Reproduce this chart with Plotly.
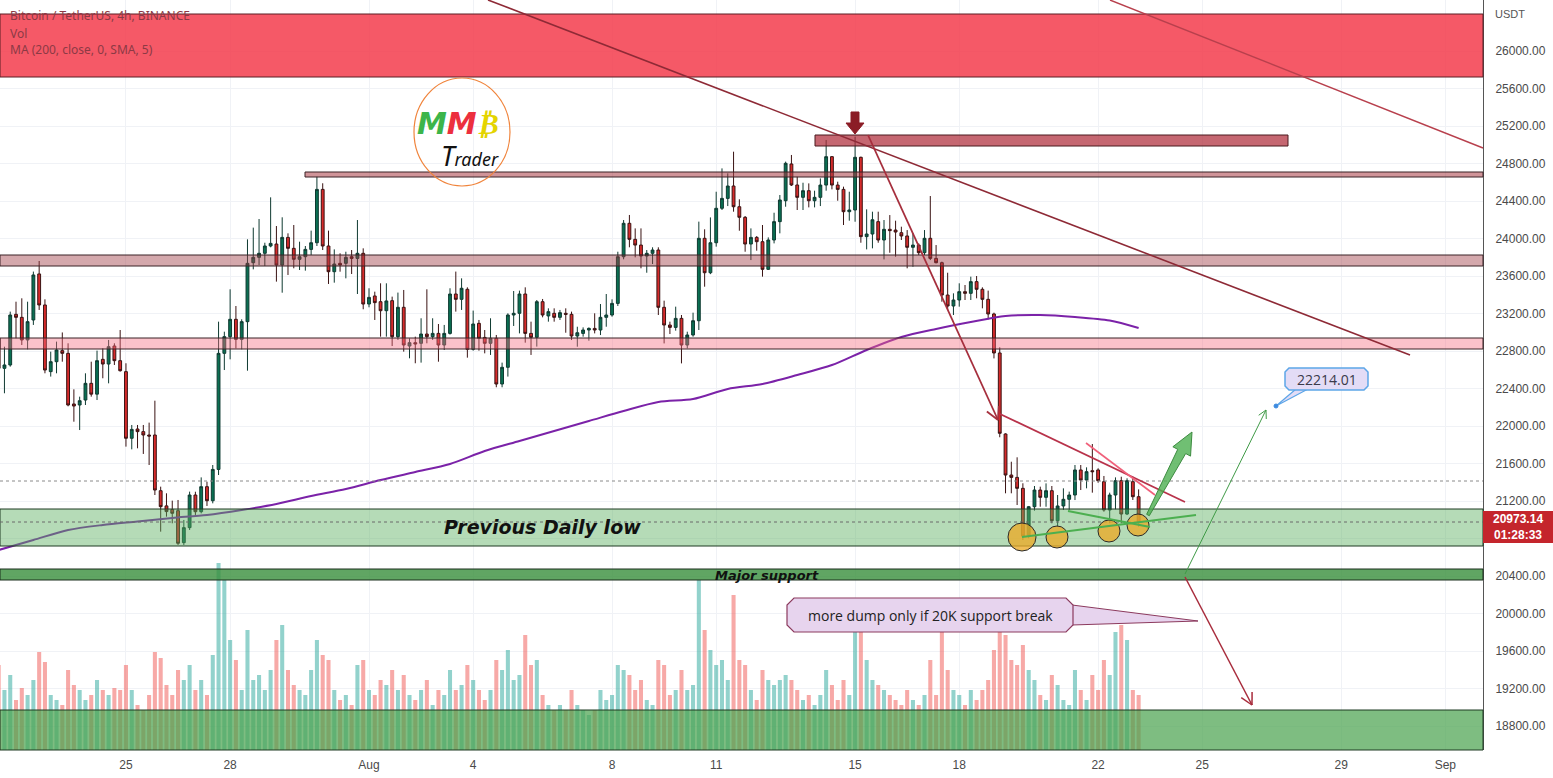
import plotly.graph_objects as go
import pandas as pd
import math

# ---------------- data ----------------
dates = pd.date_range("2022-07-21 08:00", periods=198, freq="4h")

opens = [22935, 22615, 22651, 23191, 23159, 22918, 23131, 23622, 23291, 22580,
         22686, 22804, 22775, 22235, 22224, 22277, 22455, 22340, 22711, 22661,
         22853, 22697, 22580, 21869, 21968, 21940, 21904, 21904, 21310, 21148,
         21108, 21097, 20756, 20916, 21264, 21086, 21353, 21203, 21537, 22775,
         22953, 23138, 22924, 23113, 23742, 23799, 23842, 23920, 23941, 23717,
         24012, 23895, 23778, 23806, 23884, 23955, 24524, 23920, 23646, 23735,
         23735, 23806, 23788, 23842, 23301, 23387, 23326, 23230, 23337, 22953,
         23266, 22853, 22889, 22882, 22981, 22953, 22988, 22864, 22988, 23408,
         23351, 23458, 22818, 23095, 22945, 22882, 22935, 22448, 22626, 23184,
         23202, 23408, 22988, 22946, 23326, 23174, 23202, 23159, 23202, 23191,
         22960, 22988, 23024, 23041, 23024, 23159, 23184, 23308, 23806, 24162,
         23991, 23930, 23813, 23842, 23877, 23266, 23077, 23052, 23148, 22864,
         22971, 23123, 24002, 23635, 23955, 24322, 24428, 24560, 24339, 24226,
         23941, 24012, 23966, 23671, 23984, 24180, 24403, 24795, 24571, 24439,
         24510, 24403, 24439, 24570, 24873, 24570, 24524, 24286, 24304, 24866,
         24020, 24048, 24180, 23984, 24098, 24090, 24062, 24027, 23906, 23930,
         23849, 24002, 23788, 23742, 23397, 23280, 23344, 23433, 23415, 23540,
         23458, 23351, 23195, 22779, 21915, 21477, 21452, 21335, 20837, 21139,
         21317, 21239, 21310, 20990, 21147, 21218, 21264, 21531, 21424, 21523,
         21531, 21406, 21104, 21264, 21417, 21061, 21406, 21246]
highs = [22980, 22846, 23220, 23326, 23362, 23326, 23647, 23760, 23351, 22793,
         22900, 22998, 22882, 22391, 22313, 22562, 22686, 22804, 22829, 22918,
         22882, 23024, 22669, 22011, 22011, 22011, 22036, 22270, 21353, 21282,
         21204, 21211, 20998, 21300, 21299, 21452, 21406, 21584, 23113, 23006,
         23458, 23280, 23138, 23991, 24116, 24208, 23955, 24439, 24133, 24226,
         24055, 24144, 23966, 23920, 24084, 24659, 24589, 24084, 23884, 23842,
         23859, 23877, 24197, 23895, 23469, 23433, 23522, 23522, 23380, 23423,
         23451, 22935, 22953, 23149, 23458, 23149, 23088, 23078, 23469, 23647,
         23575, 23479, 23231, 23131, 23024, 23149, 22971, 22676, 23202, 23440,
         23444, 23479, 23113, 23344, 23355, 23255, 23255, 23238, 23255, 23220,
         23059, 23052, 23052, 23202, 23301, 23408, 23351, 23859, 24197, 24251,
         24108, 24108, 23877, 23906, 23906, 23337, 23113, 23273, 23184, 23006,
         23209, 24180, 24098, 24225, 24499, 24748, 24695, 24926, 24418, 24240,
         24108, 24026, 24144, 24012, 24275, 24464, 24820, 24891, 24659, 24595,
         24588, 24510, 24641, 25051, 24880, 24606, 24553, 24499, 25086, 24873,
         24311, 24286, 24286, 24197, 24250, 24190, 24126, 24090, 24055, 23948,
         24090, 24453, 23930, 23753, 23635, 23415, 23522, 23504, 23593, 23600,
         23479, 23444, 23209, 22839, 21922, 21619, 21666, 21389, 21147, 21360,
         21353, 21388, 21360, 21264, 21335, 21300, 21584, 21584, 21559, 21808,
         21549, 21467, 21289, 21452, 21459, 21442, 21459, 21324]
lows = [22590, 22349, 22633, 22935, 22864, 22818, 23078, 23238, 22562, 22527,
        22562, 22686, 22210, 22046, 21957, 22224, 22313, 22277, 22509, 22455,
        22651, 22580, 21780, 21751, 21762, 21702, 21584, 21264, 20873, 21033,
        20962, 20731, 20731, 20891, 21051, 21068, 21147, 21175, 21477, 22597,
        22711, 22828, 22818, 22590, 23671, 23717, 23707, 23906, 23540, 23422,
        23611, 23682, 23664, 23657, 23824, 23920, 23877, 23515, 23529, 23646,
        23575, 23621, 23408, 23245, 23266, 23131, 22953, 22953, 22853, 22918,
        22793, 22722, 22669, 22676, 22882, 22918, 22686, 22811, 22975, 23220,
        23238, 22729, 22804, 22804, 22775, 22758, 22413, 22413, 22527, 23067,
        22988, 22889, 22758, 22847, 23159, 23113, 23113, 23131, 22995, 22917,
        22846, 22953, 22910, 22988, 22970, 23059, 23166, 23280, 23778, 23906,
        23799, 23682, 23635, 23728, 23184, 22881, 22981, 23017, 22668, 22828,
        22953, 23024, 23486, 23620, 23913, 24304, 24346, 24286, 24083, 23859,
        23770, 23870, 23593, 23664, 23948, 24055, 24339, 24560, 24304, 24304,
        24332, 24332, 24346, 24510, 24524, 24403, 24144, 24190, 24179, 23955,
        23884, 23895, 23955, 23777, 23848, 23806, 23984, 23682, 23699, 23824,
        23824, 23770, 23735, 23326, 23237, 23184, 23273, 23344, 23344, 23362,
        23255, 23137, 22721, 21880, 21282, 21282, 21157, 20784, 20802, 21097,
        21139, 21139, 20962, 20926, 21104, 21104, 21210, 21317, 21335, 21289,
        21395, 21086, 20962, 21111, 20962, 21050, 21211, 20926]
closes = [22615, 22651, 23184, 23159, 22918, 23113, 23611, 23291, 22597, 22686,
          22811, 22775, 22224, 22213, 22270, 22455, 22340, 22697, 22661, 22846,
          22697, 22590, 21869, 21964, 21940, 21904, 21893, 21317, 21140, 21087,
          21069, 20749, 20916, 21264, 21086, 21353, 21203, 21537, 22775, 22953,
          23138, 22924, 23113, 23735, 23799, 23842, 23920, 23948, 23717, 24012,
          23895, 23778, 23806, 23884, 23955, 24524, 23920, 23646, 23728, 23717,
          23799, 23788, 23842, 23301, 23372, 23316, 23230, 23334, 22953, 23266,
          22864, 22889, 22875, 22981, 22953, 22988, 22864, 22988, 23408, 23351,
          23469, 22818, 23088, 22935, 22882, 22935, 22448, 22626, 23184, 23202,
          23408, 22988, 22946, 23326, 23184, 23220, 23159, 23209, 23191, 22960,
          22995, 23024, 23041, 23024, 23159, 23184, 23308, 23806, 24162, 23991,
          23930, 23813, 23842, 23877, 23266, 23077, 23052, 23148, 22864, 22971,
          23123, 24002, 23635, 23955, 24322, 24428, 24560, 24339, 24226, 23941,
          24012, 23966, 23671, 23984, 24180, 24411, 24802, 24571, 24439, 24510,
          24403, 24439, 24570, 24873, 24570, 24524, 24286, 24304, 24866, 24020,
          24048, 24200, 23984, 24098, 24084, 24069, 24027, 23906, 23930, 23849,
          24002, 23788, 23742, 23397, 23280, 23344, 23433, 23415, 23540, 23458,
          23351, 23195, 22779, 21922, 21477, 21452, 21335, 20826, 21139, 21317,
          21239, 21310, 20990, 21147, 21218, 21264, 21531, 21424, 21513, 21513,
          21417, 21104, 21264, 21417, 21061, 21417, 21246, 20973.14]
# volume (thousand BTC)
volumes = [17.0, 12.0, 15.0, 10.0, 12.4, 11.0, 14.0, 19.6, 17.6, 11.0,
           10.0, 9.0, 16.0, 13.0, 12.0, 10.0, 11.0, 14.0, 12.0, 11.0,
           12.4, 12.0, 17.0, 12.0, 9.0, 8.0, 11.0, 19.6, 18.4, 13.0,
           11.0, 16.0, 14.0, 17.0, 12.0, 14.0, 11.0, 19.0, 37.4, 34.0,
           22.0, 18.0, 12.0, 24.0, 14.0, 15.0, 12.0, 16.0, 22.0, 25.0,
           16.0, 13.0, 12.0, 11.0, 16.0, 22.0, 19.0, 18.0, 12.0, 10.0,
           11.0, 9.0, 17.0, 18.0, 12.0, 11.0, 14.0, 13.0, 16.0, 12.0,
           15.0, 11.0, 10.0, 12.0, 14.0, 9.0, 12.0, 11.0, 16.0, 12.0,
           13.0, 17.0, 14.0, 12.0, 10.0, 12.0, 18.0, 16.0, 20.0, 14.0,
           15.0, 23.0, 17.0, 18.0, 11.0, 9.0, 8.0, 9.0, 8.0, 12.0,
           9.0, 8.0, 7.0, 8.0, 12.0, 10.0, 11.0, 17.0, 16.0, 15.0,
           12.0, 14.0, 10.0, 9.0, 18.0, 17.0, 11.0, 12.0, 16.0, 12.0,
           13.0, 34.0, 24.0, 20.0, 17.0, 18.0, 14.0, 31.0, 18.0, 17.0,
           12.0, 10.0, 16.0, 14.0, 13.0, 14.0, 15.0, 14.0, 12.0, 10.0,
           11.0, 9.0, 11.0, 16.0, 13.0, 10.0, 14.0, 11.0, 27.6, 24.0,
           18.0, 14.0, 13.0, 12.0, 11.0, 10.0, 9.0, 12.0, 10.0, 9.0,
           11.0, 18.0, 11.0, 24.0, 16.0, 12.0, 11.0, 9.0, 12.0, 10.0,
           12.0, 14.0, 20.0, 26.0, 23.0, 18.0, 17.0, 21.0, 16.0, 14.0,
           11.0, 10.0, 15.0, 13.0, 10.0, 9.0, 16.0, 12.0, 10.0, 15.0,
           12.0, 18.0, 15.0, 23.6, 25.0, 22.0, 12.0, 11.0]

ma_idx = [0, 6, 12, 18, 24, 30, 36, 42, 48, 54, 60, 66, 72, 78, 84, 90, 96, 102, 108,
          114, 120, 126, 132, 138, 144, 150, 156, 162, 168, 174, 180, 186, 192, 197]
ma_vals = [20677, 20784, 20891, 20944, 20981, 21019, 21051, 21104, 21168, 21253,
           21328, 21424, 21509, 21595, 21733, 21840, 21947, 22053, 22160, 22256,
           22288, 22395, 22448, 22544, 22650, 22811, 22949, 23035, 23109, 23173,
           23184, 23163, 23125, 23045]

tick_dates = ["2022-07-25", "2022-07-28", "2022-08-01", "2022-08-04", "2022-08-08",
              "2022-08-11", "2022-08-15", "2022-08-18", "2022-08-22", "2022-08-25",
              "2022-08-29", "2022-09-01"]
tick_text = ["25", "28", "Aug", "4", "8", "11", "15", "18", "22", "25", "29", "Sep"]
price_ticks = list(range(18800, 26001, 400))
hidden_tick = 20800  # covered by the last-price label

# ---------------- geometry ----------------
PW, PH = 1483, 750
P_TOP, P_BOT = 26544, 18544
PX_DAY = 34.72
T_LEFT = pd.Timestamp("2022-08-01") - pd.Timedelta(days=369 / PX_DAY)
T_RIGHT = T_LEFT + pd.Timedelta(days=PW / PX_DAY)


def xp(px):
    return px / PW


def yp(py):
    return 1 - py / PH


shapes = []
annotations = []


def text(px, py, t, size, color, family="Open Sans", xanchor="center"):
    annotations.append(dict(xref="paper", yref="paper", x=xp(px), y=yp(py), text=t,
                            xanchor=xanchor, yanchor="middle", showarrow=False,
                            font=dict(family=family, size=size, color=color)))


def rect(x0, y0, x1, y1, fill, line="rgba(0,0,0,0)", lw=1, layer="above"):
    shapes.append(dict(type="rect", xref="paper", yref="paper", x0=xp(x0), x1=xp(x1),
                       y0=yp(y1), y1=yp(y0), fillcolor=fill,
                       line=dict(color=line, width=lw), layer=layer))


def line(x0, y0, x1, y1, color, width=1.5, dash="solid"):
    shapes.append(dict(type="line", xref="paper", yref="paper", x0=xp(x0), y0=yp(y0),
                       x1=xp(x1), y1=yp(y1), line=dict(color=color, width=width, dash=dash),
                       layer="above"))


def path(pts, fill, color, width=1, closed=True):
    d = "M " + " L ".join(f"{xp(x):.5f},{yp(y):.5f}" for x, y in pts)
    if closed:
        d += " Z"
    shapes.append(dict(type="path", xref="paper", yref="paper", path=d, fillcolor=fill,
                       line=dict(color=color, width=width), layer="above"))


def circle(cx, cy, r, fill, color, width=1, ry=None):
    ry = r if ry is None else ry
    shapes.append(dict(type="circle", xref="paper", yref="paper", x0=xp(cx - r), x1=xp(cx + r),
                       y0=yp(cy + ry), y1=yp(cy - ry), fillcolor=fill,
                       line=dict(color=color, width=width), layer="above"))


def arrow_head(x0, y0, x1, y1, color, size=13, width=1.5):
    dx, dy = x1 - x0, y1 - y0
    L = math.hypot(dx, dy)
    ux, uy = dx / L, dy / L
    for s in (1, -1):
        a = math.radians(28) * s
        wx = -(ux * math.cos(a) - uy * math.sin(a)) * size
        wy = -(ux * math.sin(a) + uy * math.cos(a)) * size
        line(x1, y1, x1 + wx, y1 + wy, color, width)


def rounded(bx0, by0, bx1, by1, r, fill, color, width):
    path([(bx0 + r, by0), (bx1 - r, by0), (bx1, by0 + r), (bx1, by1 - r), (bx1 - r, by1),
          (bx0 + r, by1), (bx0, by1 - r), (bx0, by0 + r)], fill, color, width)


# horizontal zones
rect(0, 14, PW, 77, "rgba(243,62,78,0.86)", "#5a1e24", 1)
rect(0, 255, PW, 266, "rgba(160,62,72,0.45)", "#3a2226", 1)
rect(0, 338, PW, 349, "rgba(246,110,128,0.42)", "#3a2226", 1)
rect(305, 172, PW, 177, "rgba(170,60,70,0.55)", "#3a2226", 1)
rect(815, 135, 1288, 146, "rgba(175,45,58,0.72)", "#4a1a1f", 1)
rect(0, 509, PW, 546, "rgba(90,175,95,0.45)", "#1f3b22", 1)
rect(0, 569, PW, 580, "rgba(56,142,60,0.8)", "#1b2e1c", 1)
rect(0, 710, PW, 750, "rgba(76,164,80,0.72)", "#1f3b22", 1)

# dotted price lines
line(0, 481, PW, 481, "#8a8a8a", 1, "dot")
line(0, 522, PW, 522, "#6a6a6a", 1, "dot")

# trend lines
line(488, 0, 1410, 355, "#8e2a36", 1.6)
line(1110, 0, PW, 148, "#b8404d", 1.4)
line(868, 135, 998, 420, "#a62f3d", 1.8)
arrow_head(868, 135, 998, 420, "#a62f3d", 14, 1.8)
line(1000, 414, 1185, 502, "#b8324a", 1.8)
line(1086, 443, 1155, 495, "#f0607a", 1.6)
line(1185, 574, 1266, 410, "#3f9a46", 1)
arrow_head(1185, 574, 1266, 410, "#3f9a46", 9, 1)
line(1185, 577, 1252, 705, "#a82c3c", 1.5)
arrow_head(1185, 577, 1252, 705, "#a82c3c", 13, 1.5)

# circles and green support lines
circle(1022, 537, 14, "rgba(235,170,40,0.78)", "#2a2a2a", 1)
circle(1057, 537, 11, "rgba(235,170,40,0.78)", "#2a2a2a", 1)
circle(1109, 531, 11, "rgba(235,170,40,0.78)", "#2a2a2a", 1)
circle(1138, 525, 11, "rgba(235,170,40,0.78)", "#2a2a2a", 1)
line(1022, 537, 1196, 515, "#4caf50", 2.2)
line(1068, 511, 1150, 527, "#4caf50", 2.2)

# thick green arrow
tx0, ty0, tx1, ty1 = 1148, 515, 1192, 432
L = math.hypot(tx1 - tx0, ty1 - ty0)
ux, uy = (tx1 - tx0) / L, (ty1 - ty0) / L
nx, ny = -uy, ux
hb = (tx1 - ux * 22, ty1 - uy * 22)
path([(tx0 + nx * 1.5, ty0 + ny * 1.5),
      (hb[0] + nx * 4.5, hb[1] + ny * 4.5),
      (hb[0] + nx * 10, hb[1] + ny * 10),
      (tx1, ty1),
      (hb[0] - nx * 10, hb[1] - ny * 10),
      (hb[0] - nx * 4.5, hb[1] - ny * 4.5),
      (tx0 - nx * 1.5, ty0 - ny * 1.5)], "rgba(76,175,80,0.8)", "#3d8b40", 1)

# dark red marker arrow above the high
path([(851, 112), (859, 112), (859, 123), (864, 123), (855, 134), (846, 123), (851, 123)],
     "#8b1d26", "#8b1d26", 1)

# callout 22214.01
path([(1296, 389), (1276, 406), (1308, 389)], "#e3dcf6", "#5da6e8", 1.2)
rounded(1285, 368, 1368, 390, 4, "#e3dcf6", "#5da6e8", 1.5)
circle(1276, 406, 2, "#3d8be0", "#3d8be0", 1)
text(1326.5, 379, "22214.01", 14, "#3a3a4a")

# callout "more dump..."
path([(1072, 605), (1198, 621), (1072, 625)], "#e7d4ee", "#8c3a5e", 1)
rounded(787, 598, 1073, 632, 7, "#e7d4ee", "#8c3a5e", 1.2)
text(930, 615, "more dump only if 20K support break", 14, "#222")

# zone texts
text(542, 527, "<b><i>Previous Daily low</i></b>", 19, "#111", "DejaVu Sans")
text(767, 575, "<b><i>Major support</i></b>", 13, "#111", "DejaVu Sans")

# logo
circle(462, 132, 48, "rgba(0,0,0,0)", "#f0843c", 1.2, ry=54)
text(458, 123, "<b><i><span style='color:#3cb54a'>M</span>"
               "<span style='color:#ec2f3e'>M</span>"
               "<span style='color:#e4d400'>₿</span></i></b>", 30, "#111", "DejaVu Sans")
text(470, 155, "<i><span style='font-size:27px'>T</span>rader</i>", 18, "#111", "Noto Sans")

# legend texts
for i, t in enumerate(["Bitcoin / TetherUS, 4h, BINANCE", "Vol", "MA (200, close, 0, SMA, 5)"]):
    text(8, 16 + 17 * i, t, 12, "#8c3a45", "Noto Sans", xanchor="left")

# price axis extras
text(1493, 14, "USDT", 11, "#555", "Liberation Sans", xanchor="left")
rect(PW, 511, 1553, 543, "#c4252c", "#c4252c", 0)
text(1518, 527, "<b>20973.14</b><br><b>01:28:33</b>", 12, "white", "Liberation Sans")

# ---------------- traces ----------------
fig = go.Figure()
vol_colors = ["rgba(38,166,154,0.5)" if c >= o else "rgba(239,83,80,0.5)"
              for o, c in zip(opens, closes)]
fig.add_trace(go.Bar(x=dates, y=volumes, marker=dict(color=vol_colors, line=dict(width=0)),
                     width=4 * 3600 * 1000 * 0.7, yaxis="y2", showlegend=False,
                     hoverinfo="skip"))
fig.add_trace(go.Scatter(x=[dates[i] for i in ma_idx], y=ma_vals, mode="lines",
                         line=dict(color="#7b22a8", width=2, shape="spline", smoothing=0.8),
                         showlegend=False))
fig.add_trace(go.Candlestick(x=dates, open=opens, high=highs, low=lows, close=closes,
                             increasing=dict(line=dict(color="#0f3a31", width=1),
                                             fillcolor="#0a6f52"),
                             decreasing=dict(line=dict(color="#3a1313", width=1),
                                             fillcolor="#d72b2b"),
                             whiskerwidth=0, showlegend=False))

fig.update_layout(
    width=1553, height=778,
    margin=dict(l=0, r=70, t=0, b=28),
    plot_bgcolor="white", paper_bgcolor="white",
    shapes=shapes, annotations=annotations,
    showlegend=False, bargap=0.3,
    xaxis=dict(range=[T_LEFT, T_RIGHT], tickvals=pd.to_datetime(tick_dates), ticktext=tick_text,
               showgrid=True, gridcolor="#f0f2f6", zeroline=False, showline=False,
               rangeslider=dict(visible=False), ticks="", ticklabelstandoff=6,
               tickfont=dict(family="Liberation Sans", size=12, color="#4a4a4a")),
    yaxis=dict(range=[P_BOT, P_TOP], side="right", tickvals=price_ticks,
               ticktext=["" if v == hidden_tick else f"{v:.2f}" for v in price_ticks],
               showgrid=True, gridcolor="#f0f2f6",
               zeroline=False, showline=True, linecolor="#555", linewidth=1, ticks="",
               ticklabelstandoff=9,
               tickfont=dict(family="Liberation Sans", size=12, color="#4a4a4a")),
    yaxis2=dict(range=[0, 150], overlaying="y", visible=False),
)

fig.write_html("out.html")
